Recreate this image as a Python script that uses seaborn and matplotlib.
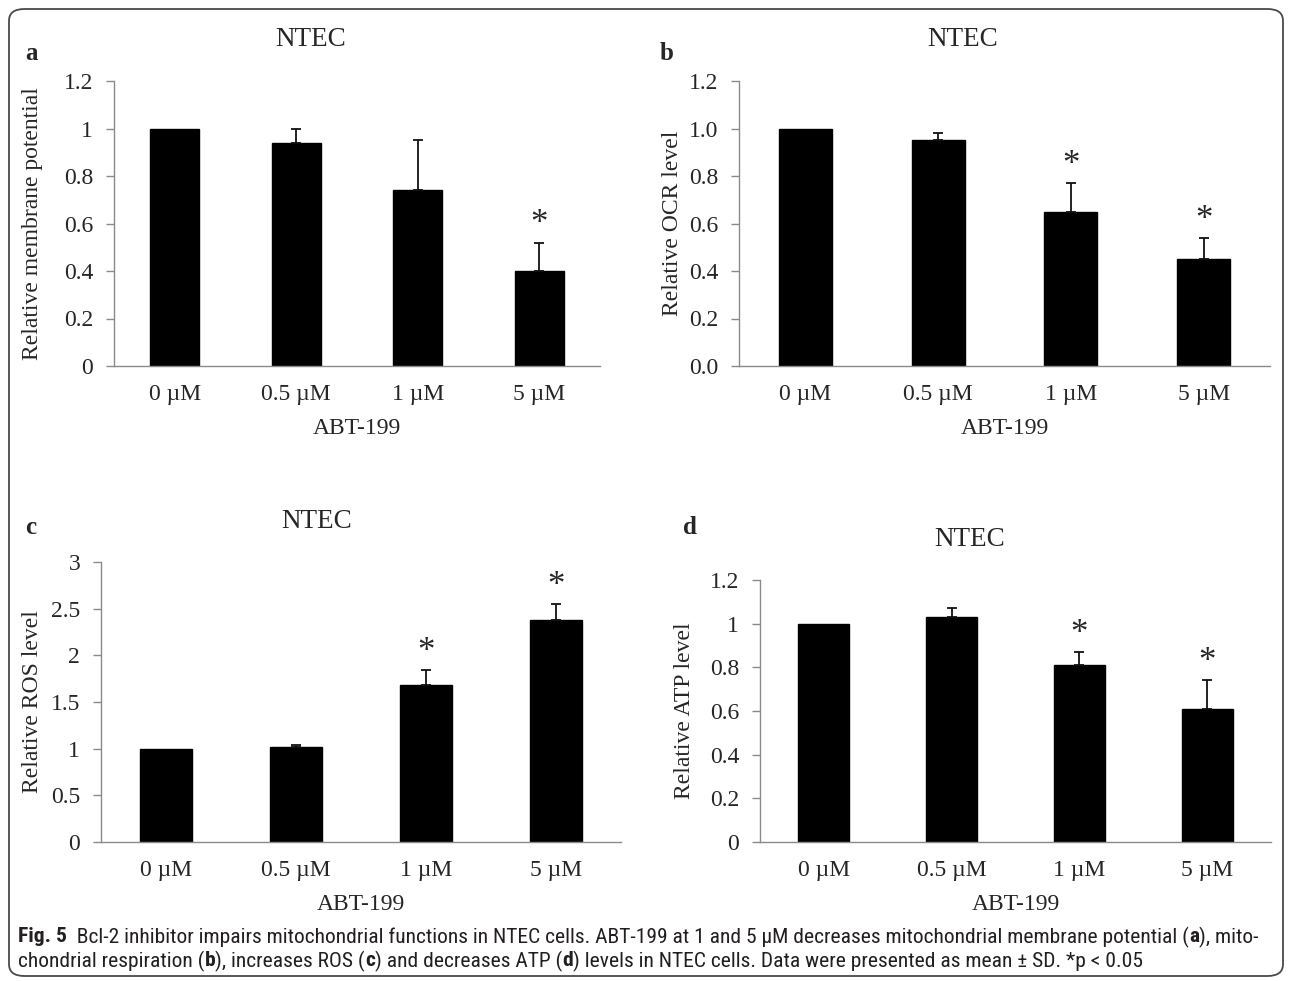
import numpy as np
import pandas as pd
import matplotlib
matplotlib.use('Agg')
import matplotlib.pyplot as plt
from matplotlib import font_manager
from matplotlib.patches import FancyBboxPatch
from matplotlib.ticker import FuncFormatter
import seaborn as sns

# ABT-199 doses on the x axis
doses = ['0 µM', '0.5 µM', '1 µM', '5 µM']

# a: relative membrane potential
membrane = [1.00, 0.94, 0.74, 0.40]
membrane_sd = [0.00, 0.06, 0.21, 0.12]
membrane_sig = [False, False, False, True]

# b: relative OCR level
ocr = [1.00, 0.95, 0.65, 0.45]
ocr_sd = [0.00, 0.03, 0.12, 0.09]
ocr_sig = [False, False, True, True]

# c: relative ROS level
ros = [1.00, 1.02, 1.68, 2.38]
ros_sd = [0.00, 0.02, 0.16, 0.17]
ros_sig = [False, False, True, True]

# d: relative ATP level
atp = [1.00, 1.03, 0.81, 0.61]
atp_sd = [0.00, 0.04, 0.06, 0.13]
atp_sig = [False, False, True, True]

sns.set_style('white')
plt.rcParams['font.family'] = ['Liberation Serif', 'DejaVu Serif']

W, H = 1290, 981
fig = plt.figure(figsize=(W / 100, H / 100), dpi=100)


def fx(x):
    return x / W


def fy(y):
    return 1 - y / H


# caption is set in a narrow sans in the journal; take a condensed face if one is installed
cap_family, cap_stretch = 'Open Sans', 'normal'
narrow = [f for f in font_manager.fontManager.ttflist
          if ('Narrow' in f.name or 'Condensed' in f.name
              or f.stretch in ('condensed', 'semi-condensed'))
          and f.style == 'normal']
for pref in ['Liberation Sans Narrow', 'Roboto Condensed', 'Noto Sans', 'Open Sans Condensed',
             'Noto Sans Condensed', 'Open Sans']:
    hit = [f for f in narrow if f.name == pref]
    if hit:
        cap_family, cap_stretch = hit[0].name, hit[0].stretch
        break
else:
    if narrow:
        cap_family, cap_stretch = narrow[0].name, narrow[0].stretch
print('caption font:', cap_family, cap_stretch)

AXIS_GREY = '#8a8a8a'
FS = 17

# pixel boxes (left, right, top, bottom) plus text anchors
panels = [
    dict(letter='a', vals=membrane, sd=membrane_sd, sig=membrane_sig,
         ylabel='Relative membrane potential', ymax=1.2, step=0.2, fmt='{:g}',
         box=(114, 600, 81, 366), letter_xy=(31, 53), title_xy=(311, 40),
         ylab_x=33, xlab_y=428),
    dict(letter='b', vals=ocr, sd=ocr_sd, sig=ocr_sig,
         ylabel='Relative OCR level', ymax=1.2, step=0.2, fmt='{:.1f}',
         box=(739, 1270, 81, 366), letter_xy=(667, 53), title_xy=(963, 40),
         ylab_x=673, xlab_y=428),
    dict(letter='c', vals=ros, sd=ros_sd, sig=ros_sig,
         ylabel='Relative ROS level', ymax=3.0, step=0.5, fmt='{:g}',
         box=(101, 621, 562, 842), letter_xy=(31, 527), title_xy=(317, 522),
         ylab_x=33, xlab_y=905),
    dict(letter='d', vals=atp, sd=atp_sd, sig=atp_sig,
         ylabel='Relative ATP level', ymax=1.2, step=0.2, fmt='{:g}',
         box=(760, 1271, 580, 842), letter_xy=(690, 527), title_xy=(970, 540),
         ylab_x=684, xlab_y=905),
]

for p in panels:
    l, r, t, b = p['box']
    ax = fig.add_axes([fx(l), fy(b), (r - l) / W, (b - t) / H])
    df = pd.DataFrame({'dose': doses, 'value': p['vals'], 'sd': p['sd']})
    sns.barplot(data=df, x='dose', y='value', color='black', saturation=1,
                width=0.4, errorbar=None, edgecolor='black', ax=ax)

    # upper-only error bars, excel style
    pos = np.arange(len(doses))
    has_err = df['sd'].values > 0
    ax.errorbar(pos[has_err], df['value'].values[has_err],
                yerr=[np.zeros(has_err.sum()), df['sd'].values[has_err]],
                fmt='none', ecolor='#111111', elinewidth=1.3, capsize=3.5, capthick=1.3)

    for i, s in enumerate(p['sig']):
        if s:
            ax.annotate('*', (i, df['value'][i] + df['sd'][i]), xytext=(0, 6.5),
                        textcoords='offset points', ha='center', va='baseline',
                        fontsize=25)

    ax.set_xlim(-0.5, len(doses) - 0.5)
    ax.set_ylim(0, p['ymax'])
    ax.set_yticks(np.arange(0, p['ymax'] + 1e-9, p['step']))
    fmt = p['fmt']
    ax.yaxis.set_major_formatter(FuncFormatter(lambda v, _, f=fmt: f.format(round(v, 2))))
    ax.set_xticks(pos)
    ax.set_xticks(np.arange(-0.5, len(doses), 1.0), minor=True)
    ax.set_xticklabels(doses)
    ax.tick_params(axis='x', which='major', length=0, pad=13, labelsize=FS)
    ax.tick_params(axis='x', which='minor', length=6, width=1, color=AXIS_GREY, direction='out')
    ax.tick_params(axis='y', length=6, width=1, color=AXIS_GREY, direction='out',
                   pad=9, labelsize=FS, left=True)
    ax.set_xlabel('')
    ax.set_ylabel('')
    sns.despine(ax=ax)
    for side in ['left', 'bottom']:
        ax.spines[side].set_color(AXIS_GREY)
        ax.spines[side].set_linewidth(1)

    fig.text(fx(p['letter_xy'][0]), fy(p['letter_xy'][1]), p['letter'], fontsize=18,
             fontweight='bold', ha='center', va='center')
    fig.text(fx(p['title_xy'][0]), fy(p['title_xy'][1]), 'NTEC', fontsize=19.5,
             ha='center', va='center')
    fig.text(fx(p['ylab_x']), fy((t + b) / 2), p['ylabel'], fontsize=FS,
             rotation=90, ha='center', va='center')
    fig.text(fx((l + r) / 2), fy(p['xlab_y']), 'ABT-199', fontsize=FS,
             ha='center', va='center')

# caption, set in runs so the bold bits sit inline
line1 = [('Fig. 5', True),
         ('  Bcl-2 inhibitor impairs mitochondrial functions in NTEC cells. ABT-199 at 1 and 5 µM '
          'decreases mitochondrial membrane potential (', False),
         ('a', True), ('), mito-', False)]
line2 = [('chondrial respiration (', False), ('b', True), ('), increases ROS (', False),
         ('c', True), (') and decreases ATP (', False), ('d', True),
         (') levels in NTEC cells. Data were presented as mean ± SD. *p < 0.05', False)]

renderer = fig.canvas.get_renderer()


def draw_runs(x, y, runs, size):
    texts = []
    for s, bold in runs:
        tx = fig.text(fx(x), fy(y), s, fontsize=size, family=[cap_family, 'DejaVu Sans'],
                      fontstretch=cap_stretch,
                      fontweight='bold' if bold else 'normal', ha='left', va='center',
                      color='#231f20')
        x += tx.get_window_extent(renderer=renderer).width
        texts.append(tx)
    return x, texts


# fit line 1 to the width it takes in the figure (18 -> 1258 px)
end, tmp = draw_runs(18, 937, line1, 12)
for tx in tmp:
    tx.remove()
cap_size = 12 * (1258 - 18) / (end - 18)
draw_runs(18, 937, line1, cap_size)
draw_runs(18, 961, line2, cap_size)

# rounded frame around the whole figure
frame = FancyBboxPatch((fx(9), fy(976)), fx(1283) - fx(9), fy(9) - fy(976),
                       boxstyle='round,pad=0,rounding_size=0.012',
                       transform=fig.transFigure, fill=False,
                       edgecolor='#4a4a4a', linewidth=1.3)
fig.patches.append(frame)

fig.savefig('out.png', dpi=100)
